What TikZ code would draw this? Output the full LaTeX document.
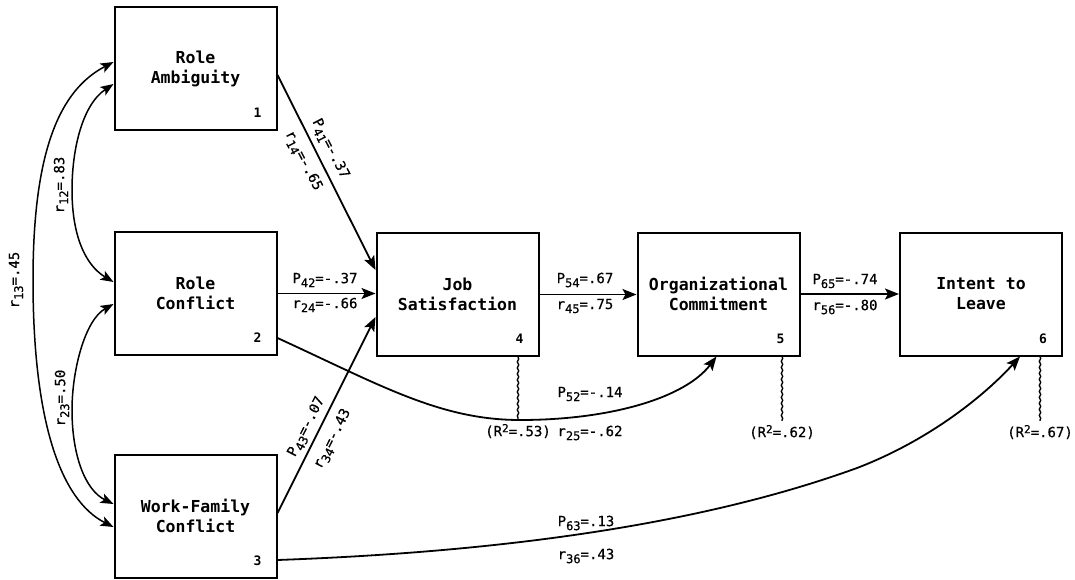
\documentclass[tikz,border=0pt]{standalone}
\usepackage{fontspec}
\setmainfont{DejaVu Sans Mono}
\usetikzlibrary{arrows.meta,calc,decorations.pathmorphing}

% lowered / raised indices in coefficient labels
\newcommand{\lsub}[1]{\raisebox{-4pt}{\fontsize{12}{12}\selectfont #1}}
\newcommand{\lsup}[1]{\raisebox{4pt}{\fontsize{11}{11}\selectfont #1}}

\begin{document}
\begin{tikzpicture}[x=1pt,y=-1pt,
  box/.style={draw,line width=2pt,minimum width=162pt,minimum height=123pt,
    align=center,inner sep=0pt,font=\bfseries\fontsize{16.5}{20}\selectfont},
  num/.style={inner sep=0pt,font=\bfseries\fontsize{13}{14}\selectfont},
  lab/.style={inner sep=0pt,font=\fontsize{14}{16}\selectfont\addfontfeature{FakeBold=0.6}},
  link/.style={line width=1.8pt,-{Stealth[length=14pt,width=11pt,inset=3pt]}},
  corr/.style={line width=1.5pt,
    {Stealth[length=13pt,width=10pt,inset=3pt]}-{Stealth[length=13pt,width=10pt,inset=3pt]}},
  resid/.style={line width=1.4pt,decorate,
    decoration={snake,amplitude=0.7pt,segment length=6pt}},
]
\useasboundingbox (0,0) rectangle (1075,580);

% constructs
\node[box] (rA) at (195.5,68.5) {Role\\Ambiguity};
\node[box] (rC) at (195.5,293.5) {Role\\Conflict};
\node[box] (wf) at (195.5,516) {Work-Family\\Conflict};
\node[box] (js) at (457.5,294.5) {Job\\Satisfaction};
\node[box] (oc) at (718.5,294) {Organizational\\Commitment};
\node[box] (il) at (981,294) {Intent to\\Leave};

% construct numbers
\node[num] (n1) at ($(rA.south east)+(-20,-18)$) {1};
\node[num] (n2) at ($(rC.south east)+(-20,-18)$) {2};
\node[num] (n3) at ($(wf.south east)+(-20,-18)$) {3};
\node[num] (n4) at ($(js.south east)+(-20,-18)$) {4};
\node[num] (n5) at ($(oc.south east)+(-20,-18)$) {5};
\node[num] (n6) at ($(il.south east)+(-20,-18)$) {6};

% correlations among exogenous variables
\draw[corr] ($(rA.west)+(0,-6.5)$) .. controls (60,90) and (33,150) .. (33,280)
  .. controls (33,420) and (60,500) .. ($(wf.west)+(0,11)$);
\draw[corr] ($(rA.west)+(0,15.5)$) .. controls (82,105) and (72,150) .. (72,190)
  .. controls (72,235) and (85,265) .. ($(rC.west)+(0,-11.5)$);
\draw[corr] ($(rC.west)+(0,10.5)$) .. controls (85,320) and (72,370) .. (72,410)
  .. controls (72,455) and (85,490) .. ($(wf.west)+(0,-12)$);

\node[lab,rotate=90] (r12) at (61,185) {r\lsub{12}=.83};
\node[lab,rotate=90] (r13) at (16,280) {r\lsub{13}=.45};
\node[lab,rotate=90] (r23) at (62,398) {r\lsub{23}=.50};

% structural paths
\draw[link] ($(rA.east)+(0,6.5)$) -- ($(js.west)+(0,-24.5)$);
\draw[link] (rC.east) -- (rC.east -| js.west);
\draw[link] ($(wf.east)+(0,-3)$) -- ($(js.west)+(0,22.5)$);
\draw[link] (js.east) -- (js.east -| oc.west);
\draw[link] (oc.east) -- (oc.east -| il.west);
\draw[link] ($(rC.east)+(0,44.5)$) .. controls (380,385) and (440,420) .. (520,420)
  .. controls (610,420) and (685,398) .. ($(oc.south)+(-2,0)$);
\draw[link] ($(wf.east)+(0,44)$) .. controls (500,552) and (700,525) .. (857,468)
  .. controls (930,440) and (985,395) .. ($(il.south)+(39,0)$);

% path coefficients and correlations
\node[lab,rotate=-62.9] (p41) at (330,149) {P\lsub{41}=-.37};
\node[lab,rotate=-62.9] (c14) at (303,161) {r\lsub{14}=-.65};
\node[lab,rotate=63] (p43) at (307,427) {P\lsub{43}=-.07};
\node[lab,rotate=63] (c34) at (333,439) {r\lsub{34}=-.43};
\node[lab] (p42) at (325,280) {P\lsub{42}=-.37};
\node[lab] (c24) at (325,305) {r\lsub{24}=-.66};
\node[lab] (p54) at (585,280) {P\lsub{54}=.67};
\node[lab] (c45) at (585,306) {r\lsub{45}=.75};
\node[lab] (p65) at (845,281) {P\lsub{65}=-.74};
\node[lab] (c56) at (845,307) {r\lsub{56}=-.80};
\node[lab] (p52) at (590,394) {P\lsub{52}=-.14};
\node[lab] (c25) at (590,433) {r\lsub{25}=-.62};
\node[lab] (p63) at (586,523) {P\lsub{63}=.13};
\node[lab] (c36) at (586,556) {r\lsub{36}=.43};

% explained variance
\node[lab] (R4) at (518,431) {(R\lsup{2}=.53)};
\node[lab] (R5) at (782,432) {(R\lsup{2}=.62)};
\node[lab] (R6) at (1040,432) {(R\lsup{2}=.67)};
\draw[resid] (js.south -| R4) -- ($(R4.north)+(0,-4)$);
\draw[resid] (oc.south -| R5) -- ($(R5.north)+(0,-4)$);
\draw[resid] (il.south -| R6) -- ($(R6.north)+(0,-4)$);
\end{tikzpicture}
\end{document}
